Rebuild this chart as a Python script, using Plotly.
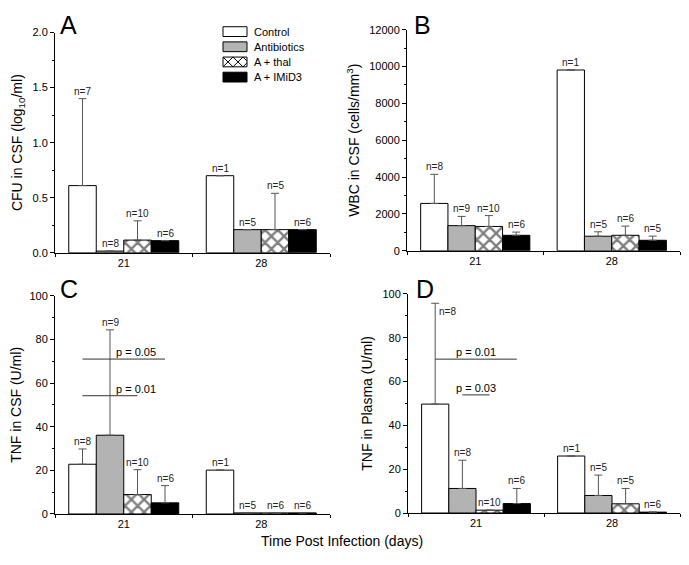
import plotly.graph_objects as go

# ---------------- data ----------------
days = ["21", "28"]
series = ["Control", "Antibiotics", "A + thal", "A + IMiD3"]

# Panel A: CFU in CSF (log10/ml)
cfu_control = [0.61, 0.70]
cfu_antib = [0.015, 0.21]
cfu_thal = [0.115, 0.21]
cfu_imid = [0.11, 0.21]
cfu_err_control = [0.79, 0]
cfu_err_antib = [0, 0]
cfu_err_thal = [0.175, 0.33]
cfu_err_imid = [0, 0]
cfu_n = [[7, 1], [8, 5], [10, 5], [6, 6]]

# Panel B: WBC in CSF (cells/mm3)
wbc_control = [2570, 9810]
wbc_antib = [1365, 790]
wbc_thal = [1320, 840]
wbc_imid = [840, 570]
wbc_err_control = [1580, 0]
wbc_err_antib = [500, 240]
wbc_err_thal = [590, 500]
wbc_err_imid = [175, 225]
wbc_n = [[8, 1], [9, 5], [10, 6], [6, 5]]

# Panel C: TNF in CSF (U/ml)
tcsf_control = [22.8, 20.1]
tcsf_antib = [36.1, 0.5]
tcsf_thal = [8.9, 0.5]
tcsf_imid = [5.1, 0.5]
tcsf_err_control = [7.0, 0]
tcsf_err_antib = [48.3, 0]
tcsf_err_thal = [11.4, 0]
tcsf_err_imid = [7.9, 0]
tcsf_n = [[8, 1], [9, 5], [10, 6], [6, 6]]

# Panel D: TNF in Plasma (U/ml)
tpl_control = [49.7, 26.0]
tpl_antib = [11.2, 8.0]
tpl_thal = [1.3, 4.2]
tpl_imid = [4.3, 0.4]
tpl_err_control = [46.0, 0]
tpl_err_antib = [12.9, 9.3]
tpl_err_thal = [0, 7.0]
tpl_err_imid = [6.9, 0]
tpl_n = [[8, 1], [8, 5], [10, 5], [6, 6]]

# significance brackets: (from series, to series, y, label)
sig_C = [(0, 3, 71, "p = 0.05"), (0, 2, 54.2, "p = 0.01")]
sig_D = [(0, 3, 70.2, "p = 0.01"), (1, 2, 53.9, "p = 0.03")]

# ---------------- style ----------------
FONT = "Arial, Liberation Sans, sans-serif"
PAGE_W, PAGE_H = 689, 565
OFF = 8  # default page body margin
W, H = PAGE_W - OFF, PAGE_H - OFF
fills = ["white", "#b3b3b3", "white", "black"]
offsets = [-0.3, -0.1, 0.1, 0.3]


def fx(px):
    return (px - OFF) / W


def fy(py):
    return 1 - (py - OFF) / H


panels = [
    dict(key="A", vals=[cfu_control, cfu_antib, cfu_thal, cfu_imid],
         errs=[cfu_err_control, cfu_err_antib, cfu_err_thal, cfu_err_imid], n=cfu_n,
         title="CFU in CSF (log<sub>10</sub>/ml)", rng=[0, 2], dtick=0.5, fmt=".1f",
         px=(55, 330), py=(27, 252), letter=(58, 3), sig=[]),
    dict(key="B", vals=[wbc_control, wbc_antib, wbc_thal, wbc_imid],
         errs=[wbc_err_control, wbc_err_antib, wbc_err_thal, wbc_err_imid], n=wbc_n,
         title="WBC in CSF (cells/mm<sup>3</sup>)", rng=[0, 12000], dtick=2000, fmt="d",
         px=(407, 680), py=(24, 250), letter=(412, 3), sig=[]),
    dict(key="C", vals=[tcsf_control, tcsf_antib, tcsf_thal, tcsf_imid],
         errs=[tcsf_err_control, tcsf_err_antib, tcsf_err_thal, tcsf_err_imid], n=tcsf_n,
         title="TNF in CSF (U/ml)", rng=[0, 100], dtick=20, fmt="d",
         px=(55, 330), py=(296, 519), letter=(58, 273), sig=sig_C),
    dict(key="D", vals=[tpl_control, tpl_antib, tpl_thal, tpl_imid],
         errs=[tpl_err_control, tpl_err_antib, tpl_err_thal, tpl_err_imid], n=tpl_n,
         title="TNF in Plasma (U/ml)", rng=[0, 100], dtick=20, fmt="d",
         px=(408, 680), py=(294, 518), letter=(414, 273), sig=sig_D),
]

fig = go.Figure()
annotations = []
shapes = []

for i, p in enumerate(panels):
    ax = "" if i == 0 else str(i + 1)
    xref, yref = "x" + ax, "y" + ax
    for s in range(4):
        err = [e if e > 0 else None for e in p["errs"][s]]
        marker = dict(color=fills[s], line=dict(color="black", width=1))
        if s == 2:
            marker["pattern"] = dict(shape="x", fgcolor="black", bgcolor="white",
                                     size=9, solidity=0.45)
        fig.add_trace(go.Bar(
            x=days, y=p["vals"][s], name=series[s], marker=marker,
            showlegend=False, xaxis=xref, yaxis=yref,
            error_y=dict(type="data", symmetric=False, array=err,
                         arrayminus=[0, 0], color="#555555", thickness=1, width=4),
        ))
        for g in range(2):
            top = p["vals"][s][g] + p["errs"][s][g]
            xpos = g + offsets[s]
            if p["key"] == "D" and s == 0 and g == 0:
                annotations.append(dict(x=xpos, y=top, xref=xref, yref=yref,
                                        text="n=%d" % p["n"][s][g], showarrow=False,
                                        xanchor="left", yanchor="top", xshift=2, yshift=-1,
                                        font=dict(size=10, color="#222", family=FONT)))
            else:
                annotations.append(dict(x=xpos, y=top, xref=xref, yref=yref,
                                        text="n=%d" % p["n"][s][g], showarrow=False,
                                        xanchor="center", yanchor="bottom", yshift=0,
                                        font=dict(size=10, color="#222", family=FONT)))
    for (a, b, yv, lab) in p["sig"]:
        shapes.append(dict(type="line", xref=xref, yref=yref,
                           x0=offsets[a], x1=offsets[b], y0=yv, y1=yv,
                           line=dict(color="#333", width=1)))
        annotations.append(dict(x=-0.16 if p["key"] == "D" else -0.07, y=yv,
                                xref=xref, yref=yref, text=lab, showarrow=False,
                                xanchor="left", yanchor="bottom", yshift=-1,
                                font=dict(size=11, color="black", family=FONT)))
    # panel letter
    annotations.append(dict(x=fx(p["letter"][0]), y=fy(p["letter"][1]),
                            xref="paper", yref="paper", text=p["key"], showarrow=False,
                            xanchor="left", yanchor="top",
                            font=dict(size=25, color="black", family=FONT)))
    xdom = [fx(p["px"][0]), fx(p["px"][1])]
    ydom = [fy(p["py"][1]), fy(p["py"][0])]
    fig.layout["xaxis" + ax] = dict(
        domain=xdom, anchor=yref, type="category", range=[-0.5, 1.5],
        tickson="boundaries", ticks="outside", ticklen=3, tickcolor="black",
        showline=True, linecolor="black", linewidth=1, showgrid=False, zeroline=False,
        tickfont=dict(size=11, color="black", family=FONT), fixedrange=True)
    fig.layout["yaxis" + ax] = dict(
        domain=ydom, anchor=xref, range=p["rng"], dtick=p["dtick"], tick0=0,
        tickformat=p["fmt"], ticks="outside", ticklen=4, tickcolor="black",
        minor=dict(ticks="outside", ticklen=2, dtick=p["dtick"] / 2, tickcolor="black"),
        showline=True, linecolor="black", linewidth=1, showgrid=False, zeroline=False,
        tickfont=dict(size=11, color="black", family=FONT),
        title=dict(text=p["title"], font=dict(size=14, color="black", family=FONT),
                   standoff=6))

# manual legend (panel A)
leg_x0, leg_w, leg_h, leg_y0, leg_dy = 223, 24, 10, 26, 15.5
for s in range(4):
    cy = leg_y0 + s * leg_dy
    shapes.append(dict(type="rect", xref="paper", yref="paper",
                       x0=fx(leg_x0), x1=fx(leg_x0 + leg_w),
                       y0=fy(cy + leg_h / 2), y1=fy(cy - leg_h / 2),
                       fillcolor=fills[s], line=dict(color="black", width=1), layer="above"))
    if s == 2:
        step = leg_h
        path = ""
        for k in range(-1, 4):
            xa = leg_x0 + k * step
            for (p0, p1) in [((xa, cy + leg_h / 2), (xa + step, cy - leg_h / 2)),
                             ((xa, cy - leg_h / 2), (xa + step, cy + leg_h / 2))]:
                (ax0, ay0), (ax1, ay1) = p0, p1
                t0, t1 = 0.0, 1.0
                if ax0 < leg_x0:
                    t0 = (leg_x0 - ax0) / (ax1 - ax0)
                if ax1 > leg_x0 + leg_w:
                    t1 = (leg_x0 + leg_w - ax0) / (ax1 - ax0)
                if t1 <= t0:
                    continue
                sx, sy = ax0 + t0 * (ax1 - ax0), ay0 + t0 * (ay1 - ay0)
                ex, ey = ax0 + t1 * (ax1 - ax0), ay0 + t1 * (ay1 - ay0)
                path += "M%.4f,%.4f L%.4f,%.4f " % (fx(sx), fy(sy), fx(ex), fy(ey))
        shapes.append(dict(type="path", xref="paper", yref="paper", path=path,
                           line=dict(color="black", width=1), layer="above"))
    annotations.append(dict(x=fx(leg_x0 + leg_w + 5), y=fy(cy), xref="paper",
                            yref="paper", text=series[s], showarrow=False,
                            xanchor="left", yanchor="middle",
                            font=dict(size=11, color="black", family=FONT)))

# common x title
annotations.append(dict(x=fx(342), y=fy(547), xref="paper", yref="paper",
                        text="Time Post Infection (days)", showarrow=False,
                        xanchor="center", yanchor="middle",
                        font=dict(size=14, color="black", family=FONT)))

fig.update_layout(
    width=W, height=H, margin=dict(l=0, r=0, t=0, b=0),
    paper_bgcolor="white", plot_bgcolor="white",
    barmode="group", bargap=0.2, bargroupgap=0,
    font=dict(family=FONT, color="black"),
    annotations=annotations, shapes=shapes, showlegend=False,
)

fig.write_html("out.html")
